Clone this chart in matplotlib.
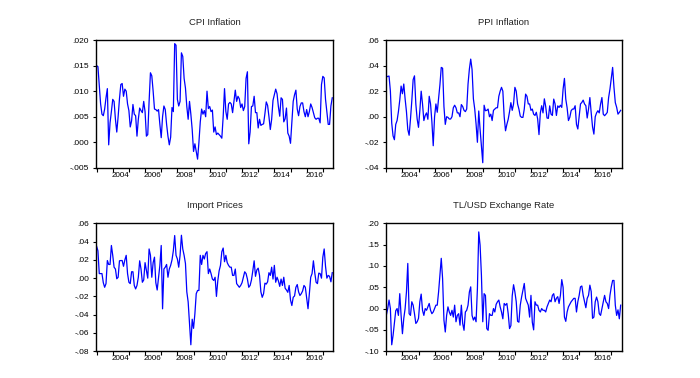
import numpy as np
import matplotlib
matplotlib.use("Agg")
import matplotlib.pyplot as plt

# monthly series, 2003M01 - 2017M08
cpi = [0.0150, 0.0148, 0.0110, 0.0075, 0.0055, 0.0052, 0.0065, 0.0087, 0.0105, -0.0005,
       0.0038, 0.0060, 0.0084, 0.0080, 0.0045, 0.0020, 0.0050, 0.0085, 0.0113, 0.0115,
       0.0090, 0.0104, 0.0100, 0.0075, 0.0062, 0.0030, 0.0042, 0.0074, 0.0055, 0.0052,
       0.0012, 0.0045, 0.0067, 0.0062, 0.0058, 0.0080, 0.0060, 0.0012, 0.0015, 0.0080,
       0.0136, 0.0130, 0.0100, 0.0065, 0.0064, 0.0061, 0.0064, 0.0035, 0.0009, 0.0050,
       0.0071, 0.0064, 0.0035, 0.0012, -0.0005, 0.0010, 0.0068, 0.0060, 0.0193, 0.0190,
       0.0084, 0.0071, 0.0080, 0.0175, 0.0168, 0.0125, 0.0106, 0.0070, 0.0045, 0.0080,
       0.0055, 0.0025, -0.0018, -0.0003, -0.0018, -0.0033, 0.0000, 0.0040, 0.0065, 0.0055,
       0.0062, 0.0050, 0.0100, 0.0066, 0.0070, 0.0060, 0.0063, 0.0020, 0.0030, 0.0015,
       0.0018, 0.0015, 0.0012, 0.0008, 0.0050, 0.0105, 0.0060, 0.0045, 0.0075, 0.0078,
       0.0075, 0.0058, 0.0080, 0.0102, 0.0080, 0.0090, 0.0085, 0.0068, 0.0075, 0.0062,
       0.0070, 0.0125, 0.0138, -0.0003, 0.0020, 0.0070, 0.0071, 0.0090, 0.0058, 0.0058,
       0.0028, 0.0045, 0.0033, 0.0035, 0.0036, 0.0056, 0.0079, 0.0072, 0.0050, 0.0025,
       0.0045, 0.0082, 0.0093, 0.0104, 0.0095, 0.0070, 0.0051, 0.0087, 0.0084, 0.0040,
       0.0046, 0.0067, 0.0018, 0.0012, -0.0002, 0.0040, 0.0080, 0.0093, 0.0102, 0.0065,
       0.0052, 0.0070, 0.0077, 0.0077, 0.0060, 0.0050, 0.0064, 0.0050, 0.0060, 0.0075,
       0.0068, 0.0058, 0.0048, 0.0045, 0.0047, 0.0047, 0.0038, 0.0113, 0.0129, 0.0126,
       0.0084, 0.0060, 0.0035, 0.0035, 0.0071, 0.0087]

ppi = [0.0310, 0.0316, 0.0318, 0.0200, -0.0050, -0.0150, -0.0180, -0.0060, -0.0030, 0.0040,
       0.0130, 0.0240, 0.0180, 0.0256, 0.0140, 0.0040, -0.0100, -0.0145, -0.0020, 0.0125,
       0.0290, 0.0320, 0.0100, -0.0018, -0.0083, 0.0047, 0.0200, 0.0100, -0.0030, 0.0010,
       0.0030, -0.0020, 0.0160, 0.0100, -0.0040, -0.0227, 0.0000, 0.0100, 0.0035, 0.0140,
       0.0250, 0.0386, 0.0380, 0.0080, -0.0060, 0.0000, -0.0005, -0.0018, -0.0018, 0.0000,
       0.0070, 0.0090, 0.0070, 0.0030, 0.0030, 0.0000, 0.0095, 0.0080, 0.0050, 0.0040,
       0.0060, 0.0256, 0.0373, 0.0451, 0.0370, 0.0140, 0.0060, -0.0057, -0.0200, 0.0045,
       -0.0100, -0.0227, -0.0360, 0.0090, 0.0047, 0.0050, 0.0060, 0.0000, 0.0020, -0.0030,
       0.0050, 0.0060, 0.0070, 0.0070, 0.0160, 0.0200, 0.0230, 0.0200, 0.0000, -0.0110,
       -0.0060, -0.0020, 0.0040, 0.0110, 0.0050, 0.0100, 0.0230, 0.0200, 0.0100, 0.0060,
       0.0005, -0.0005, -0.0005, 0.0060, 0.0177, 0.0160, 0.0100, 0.0100, 0.0050, 0.0060,
       0.0020, 0.0010, 0.0035, -0.0018, -0.0140, 0.0030, 0.0086, 0.0030, 0.0140, 0.0080,
       -0.0010, -0.0013, 0.0085, 0.0020, 0.0010, 0.0138, 0.0100, 0.0010, 0.0085, 0.0073,
       0.0090, 0.0073, 0.0216, 0.0300, 0.0138, 0.0070, -0.0030, -0.0005, 0.0047, 0.0060,
       0.0060, 0.0086, -0.0060, -0.0096, 0.0000, 0.0100, 0.0112, 0.0130, 0.0100, 0.0086,
       -0.0010, 0.0060, 0.0150, 0.0030, -0.0080, -0.0136, 0.0000, 0.0030, 0.0047, 0.0030,
       0.0100, 0.0150, 0.0020, 0.0008, 0.0020, 0.0034, 0.0150, 0.0216, 0.0300, 0.0386,
       0.0230, 0.0110, 0.0074, 0.0020, 0.0034, 0.0050]

imp = [0.0350, 0.0300, 0.0050, 0.0050, 0.0050, -0.0050, -0.0100, -0.0060, 0.0193, 0.0150,
       0.0150, 0.0358, 0.0250, 0.0120, 0.0100, -0.0007, 0.0010, 0.0190, 0.0193, 0.0193,
       0.0130, 0.0200, 0.0250, 0.0050, -0.0045, -0.0060, 0.0070, 0.0070, -0.0080, -0.0118,
       -0.0080, 0.0010, 0.0190, 0.0100, -0.0045, -0.0020, 0.0170, 0.0085, 0.0000, 0.0320,
       0.0250, 0.0010, 0.0170, 0.0230, -0.0050, -0.0130, 0.0010, 0.0140, 0.0358, -0.0336,
       0.0100, 0.0120, 0.0150, 0.0010, 0.0100, 0.0140, 0.0200, 0.0300, 0.0467, 0.0250,
       0.0210, 0.0120, 0.0250, 0.0470, 0.0320, 0.0250, 0.0160, -0.0150, -0.0260, -0.0500,
       -0.0730, -0.0450, -0.0550, -0.0390, -0.0170, -0.0135, -0.0135, 0.0250, 0.0150, 0.0250,
       0.0210, 0.0270, 0.0290, 0.0050, 0.0100, 0.0050, -0.0010, -0.0025, 0.0010, -0.0200,
       -0.0030, 0.0080, 0.0140, 0.0290, 0.0330, 0.0180, 0.0250, 0.0170, 0.0140, 0.0120,
       0.0120, 0.0030, 0.0030, 0.0100, -0.0060, -0.0080, -0.0100, -0.0080, -0.0050, 0.0010,
       0.0070, 0.0050, -0.0010, -0.0100, -0.0080, -0.0020, 0.0080, 0.0190, 0.0020, 0.0090,
       0.0110, 0.0030, -0.0150, -0.0210, -0.0170, -0.0055, -0.0065, -0.0040, 0.0060, 0.0030,
       0.0120, -0.0010, 0.0140, -0.0045, 0.0010, -0.0030, -0.0090, -0.0010, -0.0080, 0.0010,
       -0.0110, -0.0130, -0.0155, -0.0080, -0.0240, -0.0300, -0.0210, -0.0195, -0.0100, -0.0070,
       -0.0150, -0.0190, -0.0170, -0.0140, -0.0080, -0.0100, -0.0220, -0.0335, -0.0170, 0.0010,
       0.0050, 0.0190, 0.0060, -0.0045, -0.0060, 0.0055, 0.0050, 0.0000, 0.0230, 0.0320,
       0.0130, 0.0000, 0.0030, 0.0020, -0.0040, 0.0060]

fx = [-0.015, 0.000, 0.020, 0.000, -0.085, -0.063, -0.035, -0.005, 0.000, -0.016,
      0.035, -0.016, -0.059, -0.023, 0.000, 0.039, 0.106, -0.012, -0.016, 0.016,
      0.008, -0.012, -0.035, -0.031, -0.023, 0.016, 0.034, -0.004, -0.016, 0.000,
      -0.004, 0.004, 0.012, -0.004, -0.012, -0.008, 0.000, 0.008, 0.008, 0.039,
      0.078, 0.118, 0.070, -0.027, -0.055, -0.016, 0.004, -0.008, -0.016, -0.004,
      -0.020, 0.008, -0.031, -0.016, -0.012, -0.039, 0.008, -0.035, -0.051, -0.008,
      -0.004, 0.008, 0.039, 0.051, -0.016, -0.027, -0.020, -0.031, 0.047, 0.180,
      0.149, 0.078, -0.031, 0.035, 0.031, -0.047, -0.051, -0.012, -0.016, -0.016,
      0.000, -0.008, 0.010, 0.016, 0.020, 0.004, -0.008, -0.024, 0.012, 0.008,
      0.012, -0.012, -0.047, -0.040, 0.030, 0.056, 0.039, 0.016, -0.030, -0.032,
      0.008, 0.027, 0.043, 0.059, 0.024, 0.016, 0.008, -0.020, 0.031, -0.032,
      -0.050, 0.016, 0.008, 0.008, -0.004, -0.008, 0.000, -0.004, -0.004, -0.008,
      0.004, 0.012, 0.020, 0.016, 0.031, 0.035, 0.016, 0.024, 0.028, 0.012,
      0.031, 0.068, 0.050, -0.020, -0.030, -0.008, 0.004, 0.010, 0.016, 0.020,
      0.024, 0.024, -0.008, 0.016, 0.031, 0.051, 0.053, 0.031, 0.016, 0.002,
      0.024, 0.031, 0.055, 0.040, -0.023, -0.020, 0.016, 0.027, 0.016, -0.012,
      -0.016, 0.000, 0.016, 0.031, 0.016, 0.012, 0.000, 0.031, 0.051, 0.066,
      0.066, 0.008, -0.016, -0.003, -0.024, 0.008]

titles = ["CPI Inflation", "PPI Inflation", "Import Prices", "TL/USD Exchange Rate"]
ylims = [(-0.005, 0.020), (-0.04, 0.06), (-0.08, 0.06), (-0.10, 0.20)]
ysteps = [0.005, 0.02, 0.02, 0.05]
ydec = [3, 2, 2, 2]
years = list(range(2003, 2018))
label_years = [2004, 2006, 2008, 2010, 2012, 2014, 2016]

plt.rcParams['font.family'] = ['Liberation Sans', 'DejaVu Sans']

fig = plt.figure(figsize=(7.0, 3.78), dpi=100)
boxes = [[0.137, 0.556, 0.339, 0.338], [0.551, 0.556, 0.337, 0.338],
         [0.137, 0.071, 0.339, 0.338], [0.551, 0.071, 0.337, 0.338]]


def fmt(v, d):
    s = f"{v:.{d}f}"
    if s.startswith("-0"):
        s = "-" + s[2:]
    elif s.startswith("0"):
        s = s[1:]
    if s.strip("-.0") == "":
        s = "." + "0" * d
    return s


for k, series in enumerate([cpi, ppi, imp, fx]):
    ax = fig.add_axes(boxes[k])
    t = np.arange(len(series))
    ax.plot(t, series, color="#0000FF", lw=0.9)
    ax.set_xlim(-0.5, 175.7)
    lo, hi = ylims[k]
    ax.set_ylim(lo, hi)
    yt = np.arange(lo, hi + ysteps[k] / 2, ysteps[k])
    ax.set_yticks(yt)
    ax.set_yticklabels([fmt(v, ydec[k]) for v in yt])
    ax.set_xticks([(y - 2003) * 12 for y in years])
    ax.set_xticklabels([""] * len(years))
    ax.set_xticks([(y - 2003) * 12 + 5.5 for y in label_years], minor=True)
    ax.set_xticklabels([str(y) for y in label_years], minor=True)
    ax.tick_params(axis="x", which="major", length=3, width=0.8, direction="out")
    ax.tick_params(axis="x", which="minor", length=0, labelsize=5.8, pad=3)
    ax.tick_params(axis="y", length=2.5, width=0.8, labelsize=6, pad=2.5)
    for sp in ax.spines.values():
        sp.set_linewidth(1.0)
    ax.set_title(titles[k], fontsize=6.8, pad=11, color="#222222")

fig.savefig("out.png", dpi=100)
